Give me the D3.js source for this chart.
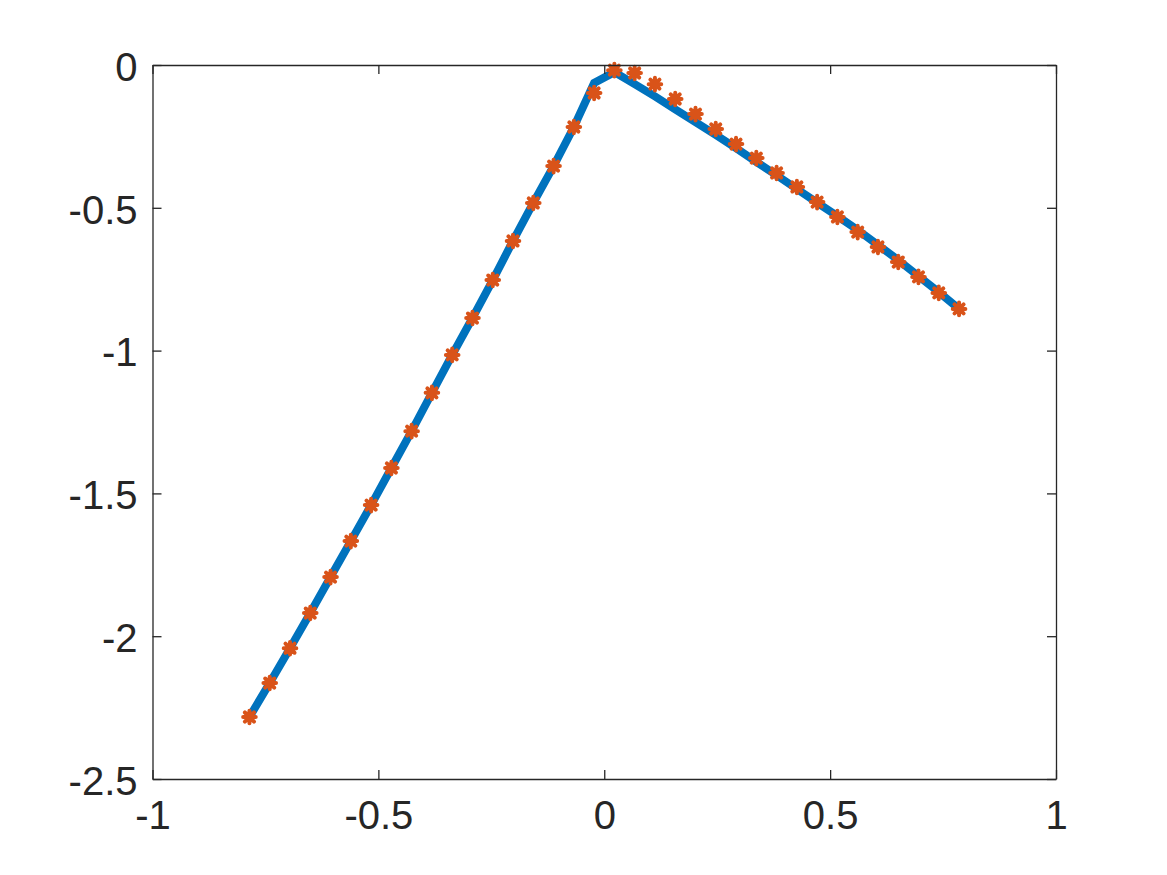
<!DOCTYPE html>
<html>
<head>
<meta charset="utf-8">
<script src="https://cdn.jsdelivr.net/npm/d3@7/dist/d3.min.js"></script>
<style>
  html, body { margin: 0; padding: 0; background: #fff; }
  svg { display: block; }
  .tick text { font-family: "Liberation Sans", Arial, Helvetica, sans-serif; font-size: 40px; fill: #262626; }
</style>
</head>
<body>
<script>
// ---- data ----
const xValues = [
  -0.7854, -0.7405, -0.6956, -0.6508, -0.6059, -0.5610, -0.5161, -0.4712, -0.4264,
  -0.3815, -0.3366, -0.2917, -0.2468, -0.2020, -0.1571, -0.1122, -0.0673, -0.0224,
   0.0224,  0.0673,  0.1122,  0.1571,  0.2020,  0.2468,  0.2917,  0.3366,  0.3815,
   0.4264,  0.4712,  0.5161,  0.5610,  0.6059,  0.6508,  0.6956,  0.7405,  0.7854
];
const lineValues = [
  -2.283, -2.164, -2.042, -1.919, -1.793, -1.667, -1.541, -1.411, -1.282,
  -1.148, -1.015, -0.886, -0.753, -0.616, -0.483, -0.354, -0.217, -0.063,
  -0.025, -0.067, -0.110, -0.155, -0.200, -0.245, -0.291, -0.339, -0.386,
  -0.434, -0.482, -0.529, -0.578, -0.630, -0.683, -0.739, -0.795, -0.854
];
const markerValues = [
  -2.283, -2.164, -2.042, -1.919, -1.793, -1.667, -1.541, -1.411, -1.282,
  -1.148, -1.015, -0.886, -0.753, -0.616, -0.483, -0.354, -0.217, -0.098,
  -0.018, -0.028, -0.067, -0.119, -0.172, -0.224, -0.277, -0.326, -0.378,
  -0.427, -0.480, -0.532, -0.585, -0.637, -0.690, -0.742, -0.798, -0.854
];
const xTicks = [-1, -0.5, 0, 0.5, 1];
const xTickLabels = ["-1", "-0.5", "0", "0.5", "1"];
const yTicks = [-2.5, -2, -1.5, -1, -0.5, 0];
const yTickLabels = ["-2.5", "-2", "-1.5", "-1", "-0.5", "0"];

// ---- layout ----
const W = 1167, H = 875;
const plotLeft = 152.5, plotRight = 1056, plotTop = 65, plotBottom = 779;
const axisColor = "#262626";

const svg = d3.select("body").append("svg").attr("width", W).attr("height", H);

const x = d3.scaleLinear().domain([-1, 1]).range([plotLeft, plotRight]);
const y = d3.scaleLinear().domain([-2.5, 0]).range([plotBottom, plotTop]);

const line = d3.line().x((d, i) => x(xValues[i])).y(d => y(d));

// blue line
svg.append("path")
  .datum(lineValues)
  .attr("d", line)
  .attr("fill", "none")
  .attr("stroke", "#0072BD")
  .attr("stroke-width", 8)
  .attr("stroke-linejoin", "miter");

// orange asterisk markers
const r = 6.3;
const k = r * 0.72;
const star = `M${-r},0L${r},0M0,${-r}L0,${r}M${-k},${-k}L${k},${k}M${-k},${k}L${k},${-k}`;
svg.append("g").selectAll("path")
  .data(markerValues)
  .join("path")
  .attr("transform", (d, i) => `translate(${x(xValues[i])},${y(d)})`)
  .attr("d", star)
  .attr("fill", "none")
  .attr("stroke", "#D95319")
  .attr("stroke-width", 4)
  .attr("stroke-linecap", "round");

// axes
function styleAxis(g) {
  g.selectAll("path.domain").attr("stroke", axisColor).attr("stroke-width", 1.3);
  g.selectAll(".tick line").attr("stroke", axisColor).attr("stroke-width", 1.3);
}
const tickLen = 9;

svg.append("g")
  .attr("transform", `translate(0,${plotBottom})`)
  .call(d3.axisBottom(x).tickValues(xTicks).tickSizeInner(-tickLen).tickSizeOuter(0).tickPadding(22)
        .tickFormat((d, i) => xTickLabels[i]))
  .call(styleAxis)
  .call(g => g.selectAll("text").attr("fill", axisColor));

svg.append("g")
  .attr("transform", `translate(0,${plotTop})`)
  .call(d3.axisTop(x).tickValues(xTicks).tickSizeInner(-tickLen).tickSizeOuter(0).tickFormat(""))
  .call(styleAxis);

svg.append("g")
  .attr("transform", `translate(${plotLeft},0)`)
  .call(d3.axisLeft(y).tickValues(yTicks).tickSizeInner(-tickLen).tickSizeOuter(0).tickPadding(15)
        .tickFormat((d, i) => yTickLabels[i]))
  .call(styleAxis)
  .call(g => g.selectAll("text").attr("fill", axisColor).attr("dy", "0.38em"));

svg.append("g")
  .attr("transform", `translate(${plotRight},0)`)
  .call(d3.axisRight(y).tickValues(yTicks).tickSizeInner(-tickLen).tickSizeOuter(0).tickFormat(""))
  .call(styleAxis);
</script>
</body>
</html>
